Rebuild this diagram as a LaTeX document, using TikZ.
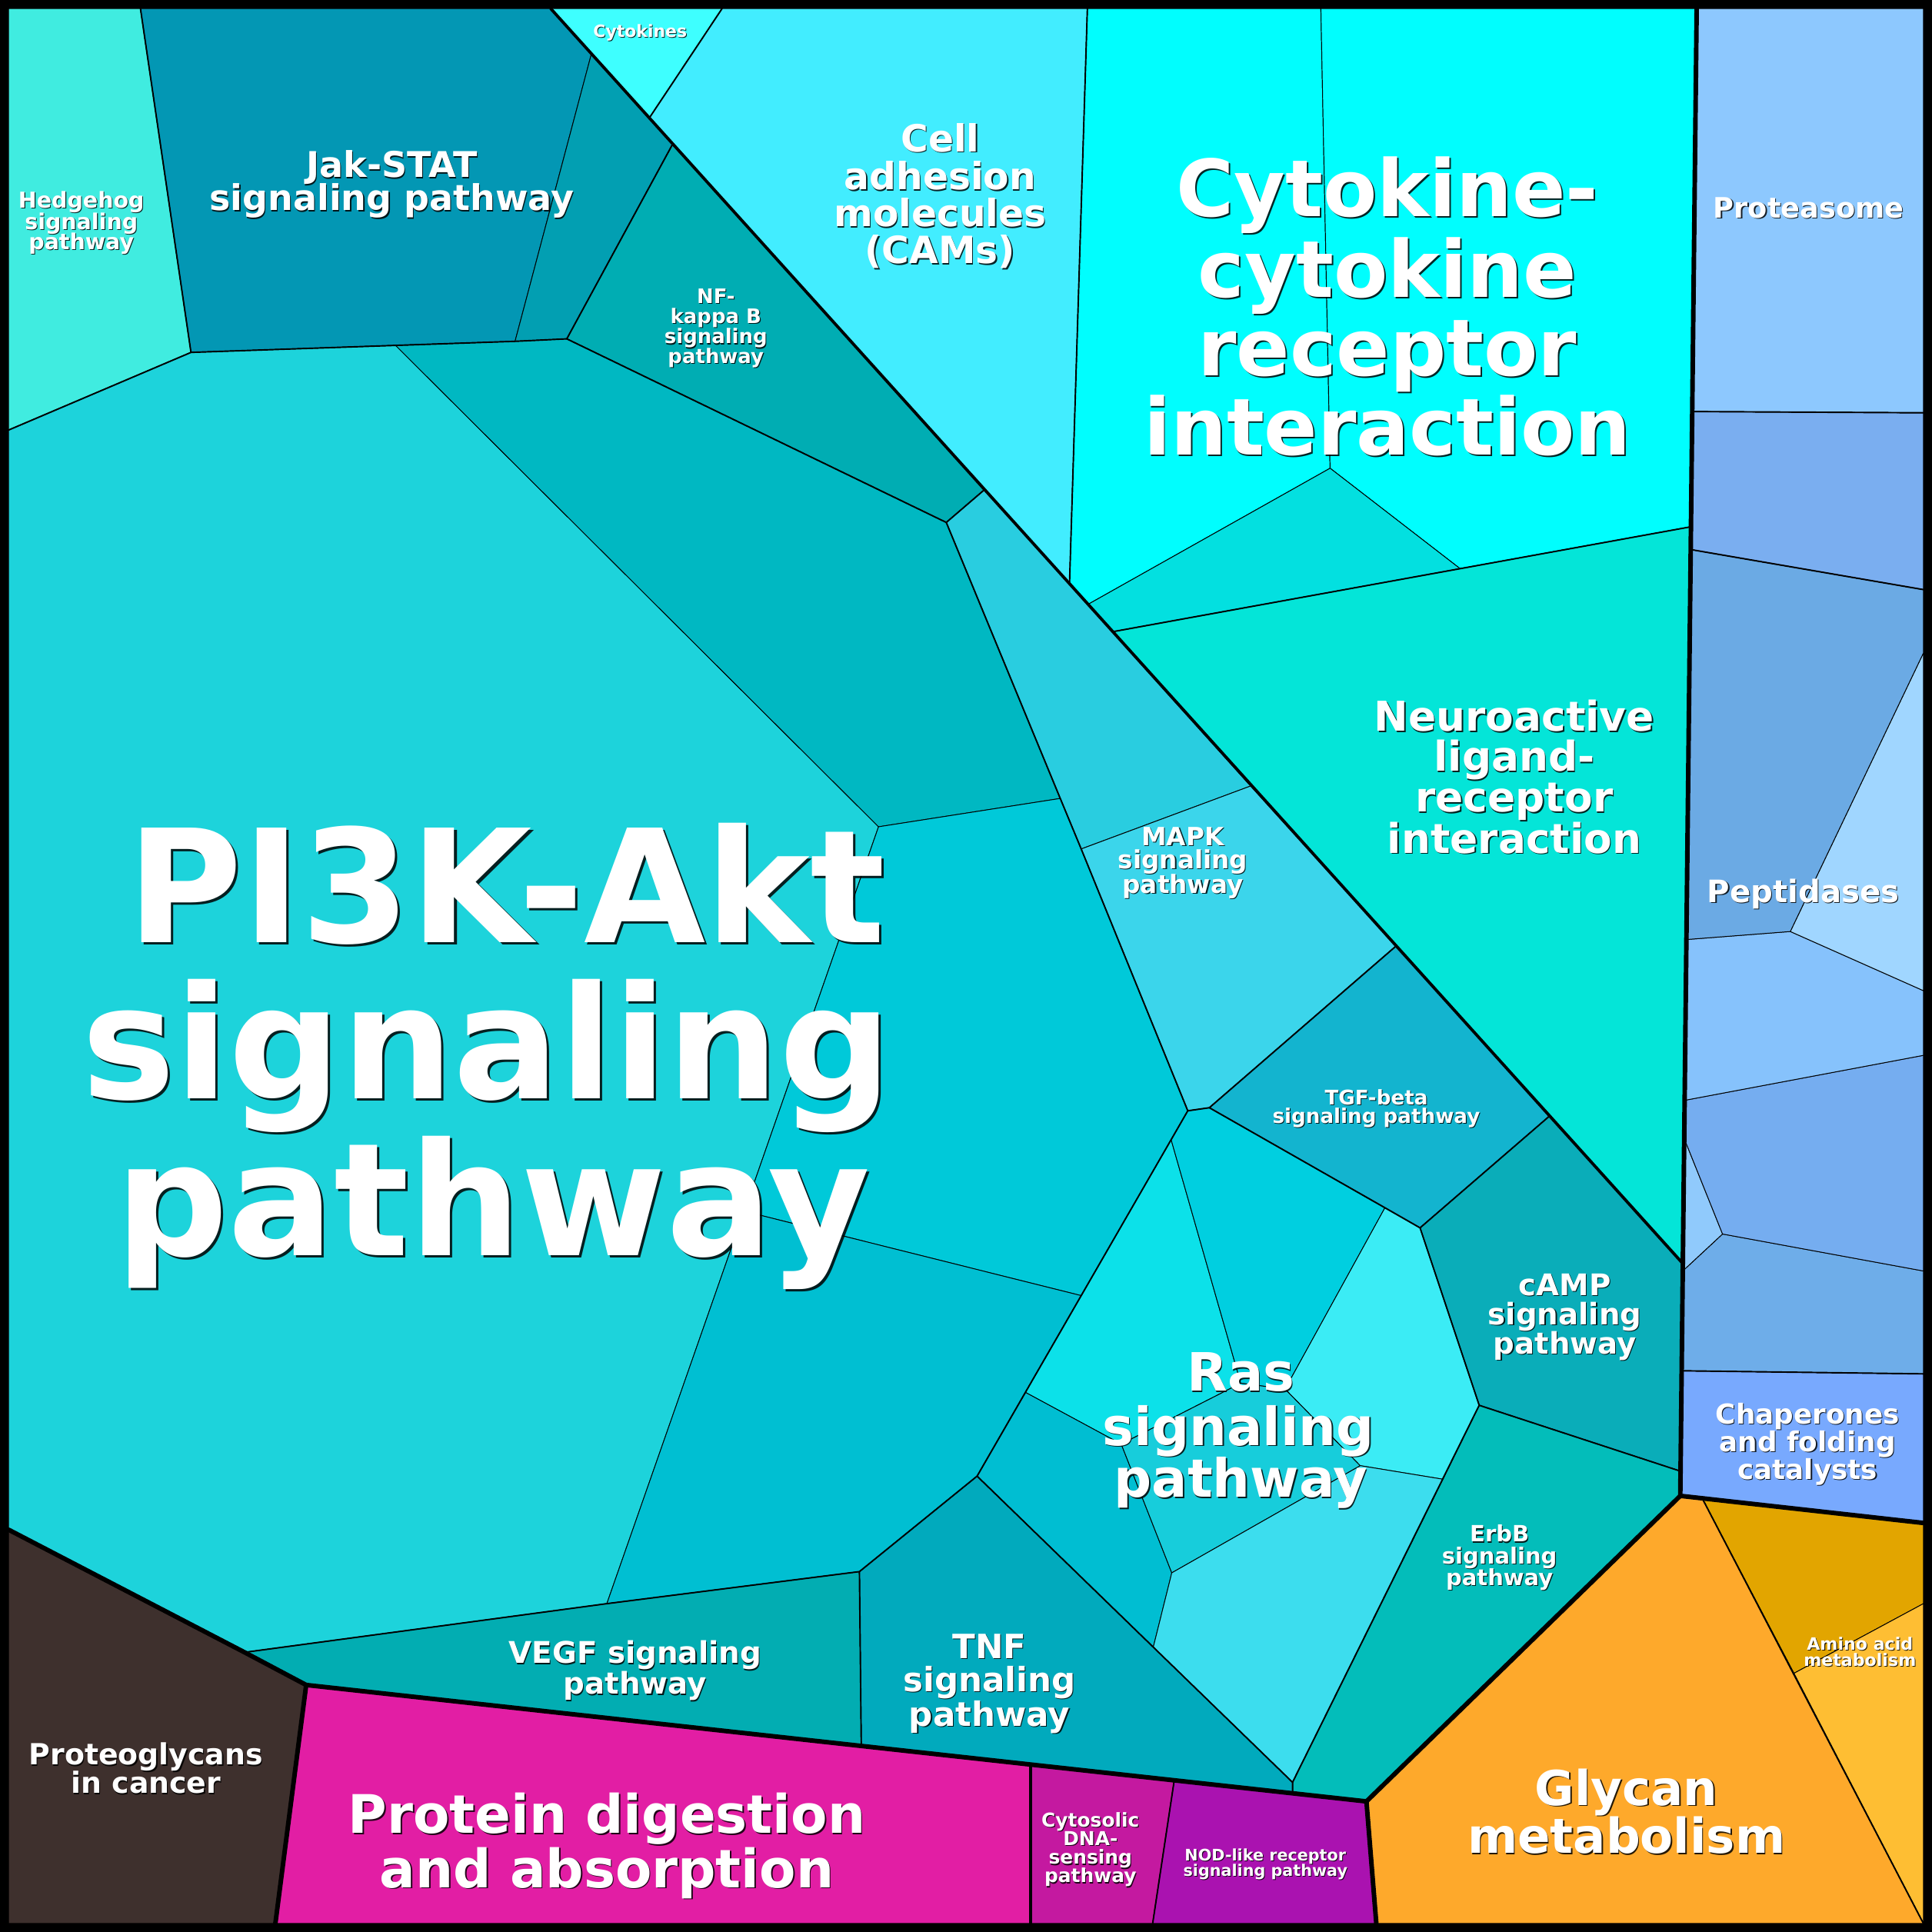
\documentclass[tikz,border=0pt]{standalone}
\usepackage{fontspec}
\setmainfont{DejaVu Sans}
\definecolor{hedge}{HTML}{40ECE0}
\definecolor{jak}{HTML}{0397B4}
\definecolor{jakb}{HTML}{029FB2}
\definecolor{cytk}{HTML}{3EFFFF}
\definecolor{cams}{HTML}{42EDFF}
\definecolor{cyto}{HTML}{00FEFE}
\definecolor{cytob}{HTML}{03E0E0}
\definecolor{neuro}{HTML}{04E5D8}
\definecolor{nfkb}{HTML}{00ADB3}
\definecolor{pibig}{HTML}{1DD3DB}
\definecolor{pia}{HTML}{00B8C2}
\definecolor{pib}{HTML}{00C9D9}
\definecolor{pic}{HTML}{00BFD2}
\definecolor{mapka}{HTML}{29CDE0}
\definecolor{mapkb}{HTML}{3BD5EB}
\definecolor{tgf}{HTML}{13B4CF}
\definecolor{camp}{HTML}{0AADB9}
\definecolor{erbb}{HTML}{03BDBA}
\definecolor{rasa}{HTML}{0CE1E9}
\definecolor{rasb}{HTML}{00CFE0}
\definecolor{rasc}{HTML}{00BED2}
\definecolor{rasd}{HTML}{17CDDB}
\definecolor{rase}{HTML}{3BECF5}
\definecolor{rasf}{HTML}{3CDDEE}
\definecolor{tnf}{HTML}{01AABD}
\definecolor{vegf}{HTML}{02ADB2}
\definecolor{prgl}{HTML}{3E302D}
\definecolor{prot}{HTML}{E21EA4}
\definecolor{cytos}{HTML}{C419A0}
\definecolor{nod}{HTML}{AA12B0}
\definecolor{glyc}{HTML}{FEA92B}
\definecolor{amia}{HTML}{E2A500}
\definecolor{amib}{HTML}{FEBE33}
\definecolor{chap}{HTML}{78A9FE}
\definecolor{pepa}{HTML}{6BAAE4}
\definecolor{pepb}{HTML}{A0D6FF}
\definecolor{pepc}{HTML}{86C2FC}
\definecolor{pepd}{HTML}{75ADF0}
\definecolor{pepe}{HTML}{90CAFC}
\definecolor{pepf}{HTML}{6EADE9}
\definecolor{blue2}{HTML}{7AAEF0}
\definecolor{prsm}{HTML}{8DC8FE}
\newcommand\lblline[5]{%
  \node[txtshadow,font=\bfseries\fontsize{#4pt}{#4pt}\selectfont] (#1s) at ({#2+0.5+0.04*#4},{#3+0.5+0.04*#4}) {#5};
  \node[txtmain,font=\bfseries\fontsize{#4pt}{#4pt}\selectfont] (#1) at (#2,#3) {#5};}
\tikzset{
  cell/.style={draw=black,line width=0.06mm,line join=round},
  lvthree/.style={draw=black,line width=0.12mm,line join=round,line cap=round},
  lvtwo/.style={draw=black,line width=0.24mm,line join=round,line cap=round},
  lvone/.style={draw=black,line width=0.37mm,line join=round,line cap=round},
  txtmain/.style={text=white,anchor=base,inner sep=0pt},
  txtshadow/.style={text=black,opacity=0.85,anchor=base,inner sep=0pt}
}
\begin{document}
\begin{tikzpicture}[x=0.1mm,y=-0.1mm]
\useasboundingbox (0,0) rectangle (1568,1568);
\fill[black] (0,0) rectangle (1568,1568);
% coordinates
\coordinate (tl) at (7,7);
\coordinate (tr) at (1561,7);
\coordinate (br) at (1561,1561);
\coordinate (bl) at (7,1561);
\coordinate (h1) at (114,7);
\coordinate (d0) at (447,7);
\coordinate (c1) at (586,7);
\coordinate (ca1) at (882.5,7);
\coordinate (cc1) at (1072,7);
\coordinate (v0) at (1377,7);
\coordinate (lh) at (7,349);
\coordinate (lp) at (7,1241.5);
\coordinate (pd0) at (223.5,1561);
\coordinate (cy0) at (836.5,1561);
\coordinate (nd0) at (935.5,1561);
\coordinate (gl0) at (1117,1561);
\coordinate (r1) at (1561,335);
\coordinate (r2) at (1561,478.5);
\coordinate (r3) at (1561,530);
\coordinate (r4) at (1561,804);
\coordinate (r5) at (1561,856.5);
\coordinate (r6) at (1561,1031.5);
\coordinate (r7) at (1561,1115);
\coordinate (r8) at (1561,1236);
\coordinate (r9) at (1561,1301.5);
\coordinate (j1) at (155,286);
\coordinate (p1) at (321,280.3);
\coordinate (j2) at (418,277);
\coordinate (j3) at (460,275);
\coordinate (dg1) at (480,43.6);
\coordinate (dg2) at (527,95.7);
\coordinate (dg3) at (546,116.8);
\coordinate (dg4) at (799,397.4);
\coordinate (dg5) at (868,473.9);
\coordinate (dg6) at (903,512.7);
\coordinate (dg7) at (1015,637.9);
\coordinate (dg8) at (1133,767.8);
\coordinate (dg9) at (1257.5,905.8);
\coordinate (dg10) at (1365.8,1025.5);
\coordinate (n1) at (768,424);
\coordinate (m1) at (860.5,648);
\coordinate (m2) at (877.5,689);
\coordinate (ra) at (964,901.5);
\coordinate (rb) at (981.5,899);
\coordinate (rc) at (950.5,925);
\coordinate (pk1) at (713,671);
\coordinate (pk2) at (604,983);
\coordinate (pk3) at (877.5,1051.5);
\coordinate (rk) at (832.2,1130);
\coordinate (rm) at (793,1198);
\coordinate (pk5) at (697.5,1275.5);
\coordinate (pk6) at (492.5,1301.5);
\coordinate (pk7) at (198.5,1341);
\coordinate (rd) at (1124,980.2);
\coordinate (re) at (1152.5,996.5);
\coordinate (rf) at (1200.5,1140.5);
\coordinate (ca2) at (1363.9,1194);
\coordinate (ca3) at (1363.7,1214);
\coordinate (rg) at (1171,1200.5);
\coordinate (rp) at (1049,1446.5);
\coordinate (rpb) at (1049,1455.4);
\coordinate (rp1) at (1007,1122.6);
\coordinate (rp2) at (1043,1127.3);
\coordinate (rq) at (910,1172);
\coordinate (rs) at (1104,1189.5);
\coordinate (rn) at (951,1276.5);
\coordinate (ro) at (936,1336.8);
\coordinate (bl0) at (248.5,1367.5);
\coordinate (bl1) at (699,1417);
\coordinate (bl2) at (836.5,1432.1);
\coordinate (bl3) at (953,1444.9);
\coordinate (gl1) at (1109,1462);
\coordinate (cyt) at (1372.4,427.5);
\coordinate (b1) at (1373.4,334);
\coordinate (b2) at (1372.2,446);
\coordinate (b3) at (1368.7,762.5);
\coordinate (b4) at (1367.3,893);
\coordinate (b5) at (1366.9,924);
\coordinate (b6) at (1365.7,1031.5);
\coordinate (b7) at (1364.8,1112.5);
\coordinate (cz1) at (1079.5,380);
\coordinate (cz2) at (1185,461.5);
\coordinate (cz3) at (883,490.5);
\coordinate (bp1) at (1453,756);
\coordinate (bp2) at (1398,1001.5);
\coordinate (gy1) at (1381.5,1216);
\coordinate (am1) at (1456,1358);
% cells
\filldraw[cell,fill=hedge] (tl) -- (h1) -- (j1) -- (lh) -- cycle;
\filldraw[cell,fill=jak] (h1) -- (d0) -- (dg1) -- (j2) -- (p1) -- (j1) -- cycle;
\filldraw[cell,fill=jakb] (dg1) -- (dg3) -- (j3) -- (j2) -- cycle;
\filldraw[cell,fill=cytk] (d0) -- (c1) -- (dg2) -- cycle;
\filldraw[cell,fill=cams] (dg2) -- (c1) -- (ca1) -- (dg5) -- cycle;
\filldraw[cell,fill=cyto] (ca1) -- (cc1) -- (cz1) -- (cz3) -- (dg5) -- cycle;
\filldraw[cell,fill=cyto] (cc1) -- (v0) -- (cyt) -- (cz2) -- (cz1) -- cycle;
\filldraw[cell,fill=cytob] (cz3) -- (cz1) -- (cz2) -- (dg6) -- cycle;
\filldraw[cell,fill=neuro] (dg6) -- (cz2) -- (cyt) -- (dg10) -- cycle;
\filldraw[cell,fill=nfkb] (dg3) -- (dg4) -- (n1) -- (j3) -- cycle;
\filldraw[cell,fill=pibig] (lh) -- (j1) -- (p1) -- (pk1) -- (pk2) -- (pk6) -- (pk7) -- (lp) -- cycle;
\filldraw[cell,fill=pia] (p1) -- (j2) -- (j3) -- (n1) -- (m1) -- (pk1) -- cycle;
\filldraw[cell,fill=pib] (pk1) -- (m1) -- (m2) -- (ra) -- (rc) -- (pk3) -- (pk2) -- cycle;
\filldraw[cell,fill=pic] (pk2) -- (pk3) -- (rk) -- (rm) -- (pk5) -- (pk6) -- cycle;
\filldraw[cell,fill=mapka] (n1) -- (dg4) -- (dg7) -- (m2) -- (m1) -- cycle;
\filldraw[cell,fill=mapkb] (m2) -- (dg7) -- (dg8) -- (rb) -- (ra) -- cycle;
\filldraw[cell,fill=tgf] (rb) -- (dg8) -- (dg9) -- (re) -- (rd) -- cycle;
\filldraw[cell,fill=camp] (re) -- (dg9) -- (dg10) -- (ca2) -- (rf) -- cycle;
\filldraw[cell,fill=erbb] (rf) -- (ca2) -- (ca3) -- (gl1) -- (rpb) -- (rp) -- (rg) -- cycle;
\filldraw[cell,fill=rasa] (rc) -- (rp1) -- (rq) -- (rk) -- cycle;
\filldraw[cell,fill=rasb] (rc) -- (ra) -- (rb) -- (rd) -- (rp2) -- (rp1) -- cycle;
\filldraw[cell,fill=rasc] (rk) -- (rq) -- (rn) -- (ro) -- (rm) -- cycle;
\filldraw[cell,fill=rasd] (rp1) -- (rp2) -- (rs) -- (rn) -- (rq) -- cycle;
\filldraw[cell,fill=rase] (rd) -- (re) -- (rf) -- (rg) -- (rs) -- (rp2) -- cycle;
\filldraw[cell,fill=rasf] (rs) -- (rg) -- (rp) -- (ro) -- (rn) -- cycle;
\filldraw[cell,fill=tnf] (pk5) -- (rm) -- (ro) -- (rp) -- (rpb) -- (bl1) -- cycle;
\filldraw[cell,fill=vegf] (pk7) -- (pk6) -- (pk5) -- (bl1) -- (bl0) -- cycle;
\filldraw[cell,fill=prgl] (lp) -- (pk7) -- (bl0) -- (pd0) -- (bl) -- cycle;
\filldraw[cell,fill=prot] (bl0) -- (bl2) -- (cy0) -- (pd0) -- cycle;
\filldraw[cell,fill=cytos] (bl2) -- (bl3) -- (nd0) -- (cy0) -- cycle;
\filldraw[cell,fill=nod] (bl3) -- (gl1) -- (gl0) -- (nd0) -- cycle;
\filldraw[cell,fill=glyc] (ca3) -- (gy1) -- (br) -- (gl0) -- (gl1) -- cycle;
\filldraw[cell,fill=amia] (gy1) -- (r8) -- (r9) -- (am1) -- cycle;
\filldraw[cell,fill=amib] (am1) -- (r9) -- (br) -- cycle;
\filldraw[cell,fill=chap] (b7) -- (r7) -- (r8) -- (ca3) -- cycle;
\filldraw[cell,fill=pepf] (b6) -- (bp2) -- (r6) -- (r7) -- (b7) -- cycle;
\filldraw[cell,fill=pepe] (b5) -- (bp2) -- (b6) -- cycle;
\filldraw[cell,fill=pepd] (b4) -- (r5) -- (r6) -- (bp2) -- (b5) -- cycle;
\filldraw[cell,fill=pepc] (b3) -- (bp1) -- (r4) -- (r5) -- (b4) -- cycle;
\filldraw[cell,fill=pepb] (r3) -- (r4) -- (bp1) -- cycle;
\filldraw[cell,fill=pepa] (b2) -- (r2) -- (r3) -- (bp1) -- (b3) -- cycle;
\filldraw[cell,fill=blue2] (b1) -- (r1) -- (r2) -- (b2) -- cycle;
\filldraw[cell,fill=prsm] (v0) -- (tr) -- (r1) -- (b1) -- cycle;
% level 3 boundaries
\draw[lvthree] (h1) -- (j1) -- (lh);
\draw[lvthree] (j1) -- (j2) -- (j3) -- (n1) -- (dg4);
\draw[lvthree] (j3) -- (dg3);
\draw[lvthree] (n1) -- (m1) -- (m2) -- (ra) -- (rm) -- (ro) -- (rp) -- (rpb);
\draw[lvthree] (ra) -- (rb) -- (dg8);
\draw[lvthree] (rb) -- (rd) -- (re) -- (dg9);
\draw[lvthree] (re) -- (rf) -- (ca2);
\draw[lvthree] (rf) -- (rp);
\draw[lvthree] (rm) -- (pk5) -- (bl1);
\draw[lvthree] (pk7) -- (pk6) -- (pk5);
\draw[lvthree] (c1) -- (dg2);
\draw[lvthree] (ca1) -- (dg5);
\draw[lvthree] (dg6) -- (cyt);
\draw[lvthree] (b1) -- (r1);
\draw[lvthree] (b2) -- (r2);
\draw[lvthree] (b7) -- (r7);
\draw[lvthree] (gy1) -- (br);
\draw[lvthree] (bl3) -- (nd0);
% level 2 boundaries
\draw[lvtwo] (d0) -- (dg10);
\draw[lvtwo] (bl2) -- (cy0);
% level 1 boundaries
\draw[lvone] (v0) -- (ca3) -- (r8);
\draw[lvone] (ca3) -- (gl1) -- (gl0);
\draw[lvone] (lp) -- (pk7) -- (bl0) -- (gl1);
\draw[lvone] (bl0) -- (pd0);
% labels
\lblline{thh1}{66}{169}{5.06}{Hedgehog}
\lblline{thh2}{66}{186}{5.06}{signaling}
\lblline{thh3}{66}{202.5}{5.06}{pathway}
\lblline{tjs1}{318}{144}{8.17}{Jak-STAT}
\lblline{tjs2}{318}{171}{8.17}{signaling pathway}
\lblline{tck1}{519.5}{30}{3.9}{Cytokines}
\lblline{tnf1}{581}{246}{4.61}{NF-}
\lblline{tnf2}{581}{262.5}{4.61}{kappa B}
\lblline{tnf3}{581}{279}{4.61}{signaling}
\lblline{tnf4}{581}{295}{4.61}{pathway}
\lblline{tcam1}{763}{123}{8.65}{Cell}
\lblline{tcam2}{763}{154}{8.65}{adhesion}
\lblline{tcam3}{763}{184}{8.65}{molecules}
\lblline{tcam4}{763}{214}{8.65}{(CAMs)}
\lblline{tccr1}{1126}{176}{18.18}{Cytokine-}
\lblline{tccr2}{1126}{241}{18.18}{cytokine}
\lblline{tccr3}{1126}{305}{18.18}{receptor}
\lblline{tccr4}{1126}{369}{18.18}{interaction}
\lblline{tnlr1}{1229}{593.5}{9.47}{Neuroactive}
\lblline{tnlr2}{1229}{626}{9.47}{ligand-}
\lblline{tnlr3}{1229}{659}{9.47}{receptor}
\lblline{tnlr4}{1229}{692.5}{9.47}{interaction}
\lblline{tprs}{1468}{177}{6.52}{Proteasome}
\lblline{tpep}{1463.5}{732.5}{7.14}{Peptidases}
\lblline{tmap1}{960}{686}{5.8}{MAPK}
\lblline{tmap2}{960}{705}{5.8}{signaling}
\lblline{tmap3}{960}{725}{5.8}{pathway}
\lblline{ttgf1}{1117}{896.5}{4.65}{TGF-beta}
\lblline{ttgf2}{1117}{911.5}{4.65}{signaling pathway}
\lblline{tcmp1}{1270}{1051.5}{6.87}{cAMP}
\lblline{tcmp2}{1270}{1075}{6.87}{signaling}
\lblline{tcmp3}{1270}{1099}{6.87}{pathway}
\lblline{terb1}{1217}{1251.5}{5.15}{ErbB}
\lblline{terb2}{1217}{1269}{5.15}{signaling}
\lblline{terb3}{1217}{1286.5}{5.15}{pathway}
\lblline{tras1}{1007}{1129}{12.18}{Ras}
\lblline{tras2}{1005}{1173}{12.18}{signaling}
\lblline{tras3}{1007}{1215}{12.18}{pathway}
\lblline{ttnf1}{803}{1346}{7.74}{TNF}
\lblline{ttnf2}{803}{1373}{7.74}{signaling}
\lblline{ttnf3}{803}{1401}{7.74}{pathway}
\lblline{tveg1}{515.5}{1350}{6.89}{VEGF signaling}
\lblline{tveg2}{515.5}{1375}{6.89}{pathway}
\lblline{tpgc1}{118.5}{1432.5}{6.72}{Proteoglycans}
\lblline{tpgc2}{118.5}{1455.5}{6.72}{in cancer}
\lblline{tpda1}{492.5}{1488}{12.26}{Protein digestion}
\lblline{tpda2}{492.5}{1532}{12.26}{and absorption}
\lblline{tcds1}{885}{1482.5}{4.42}{Cytosolic}
\lblline{tcds2}{885}{1497.5}{4.42}{DNA-}
\lblline{tcds3}{885}{1513}{4.42}{sensing}
\lblline{tcds4}{885}{1528}{4.42}{pathway}
\lblline{tnod1}{1027}{1510}{3.68}{NOD-like receptor}
\lblline{tnod2}{1027}{1523}{3.68}{signaling pathway}
\lblline{tgly1}{1320}{1465}{11.12}{Glycan}
\lblline{tgly2}{1320}{1504}{11.12}{metabolism}
\lblline{tami1}{1509.5}{1339}{3.93}{Amino acid}
\lblline{tami2}{1509.5}{1352.5}{3.93}{metabolism}
\lblline{tchp1}{1467}{1155.5}{6.35}{Chaperones}
\lblline{tchp2}{1467}{1178}{6.35}{and folding}
\lblline{tchp3}{1467}{1200.5}{6.35}{catalysts}
\lblline{tpi1}{411}{765}{36.3}{PI3K-Akt}
\lblline{tpi2}{395}{891.5}{36.3}{signaling}
\lblline{tpi3}{400}{1019}{36.3}{pathway}
\end{tikzpicture}
\end{document}
